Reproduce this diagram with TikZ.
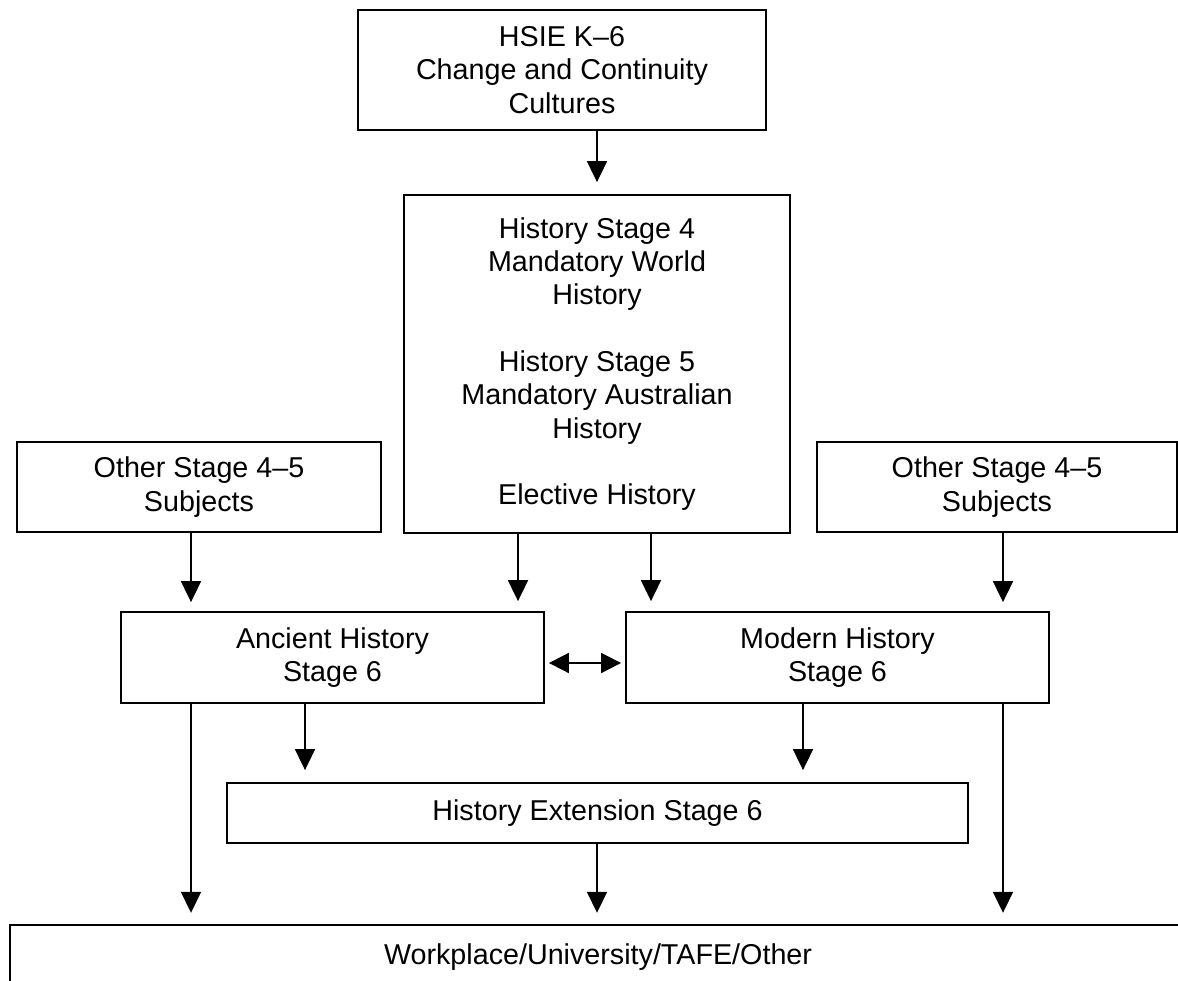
\documentclass[tikz,border=0pt]{standalone}
\usepackage{fontspec}
\setmainfont{Liberation Sans}
\usetikzlibrary{arrows.meta}
\tikzset{
  box/.style={draw, line width=1.8pt, inner sep=0pt, align=center,
    font=\fontsize{28.7pt}{33.3pt}\selectfont},
  arr/.style={line width=1.8pt, -{Triangle[length=21pt,width=20pt]}},
  darr/.style={line width=1.8pt, {Triangle[length=20pt,width=20pt]}-{Triangle[length=20pt,width=20pt]}},
}
\begin{document}
\begin{tikzpicture}[x=1pt,y=-1pt]
\useasboundingbox (0,0) rectangle (1178,981);
\clip (0,0) rectangle (1178,981);

\node[box, minimum width=408pt, minimum height=120pt] (hsie) at (562,70)
  {HSIE K--6\\Change and Continuity\\Cultures};
\node[box, minimum width=386pt, minimum height=338pt] (hist) at (597,364)
  {History Stage 4\\Mandatory World\\History\\[33.3pt]History Stage 5\\Mandatory Australian\\History\\[33.3pt]Elective History};
\node[box, minimum width=364pt, minimum height=90pt] (oth1) at (199,487)
  {Other Stage 4--5\\Subjects};
\node[box, minimum width=360pt, minimum height=90pt] (oth2) at (997,487)
  {Other Stage 4--5\\Subjects};
\node[box, minimum width=423pt, minimum height=91pt] (anc) at (332.5,657.5)
  {Ancient History\\Stage 6};
\node[box, minimum width=423pt, minimum height=91pt] (mod) at (837.5,657.5)
  {Modern History\\Stage 6};
\node[box, minimum width=741pt, minimum height=60pt] (ext) at (597.5,813)
  {History Extension Stage 6};
\node[box, line width=2.4pt, minimum width=1176pt, minimum height=64pt] (work) at (598,957)
  {Workplace/University/TAFE/Other};

\coordinate (c1) at (191,0);
\coordinate (c2) at (305,0);
\coordinate (c3) at (518,0);
\coordinate (c4) at (597,0);
\coordinate (c5) at (651,0);
\coordinate (c6) at (803,0);
\coordinate (c7) at (1003,0);
\coordinate (mid) at (585,663);

\draw[arr, shorten >=12pt] (c4 |- hsie.south) -- (c4 |- hist.north);
\draw[arr, shorten >=9pt] (c1 |- oth1.south) -- (c1 |- anc.north);
\draw[arr, shorten >=10pt] (c3 |- hist.south) -- (c3 |- anc.north);
\draw[arr, shorten >=10pt] (c5 |- hist.south) -- (c5 |- mod.north);
\draw[arr, shorten >=9pt] (c7 |- oth2.south) -- (c7 |- mod.north);
\draw[darr, shorten <=4pt, shorten >=4pt] (anc.east |- mid) -- (mod.west |- mid);
\draw[arr, shorten >=12pt] (c2 |- anc.south) -- (c2 |- ext.north);
\draw[arr, shorten >=12pt] (c6 |- mod.south) -- (c6 |- ext.north);
\draw[arr, shorten >=11pt] (c1 |- anc.south) -- (c1 |- work.north);
\draw[arr, shorten >=11pt] (c7 |- mod.south) -- (c7 |- work.north);
\draw[arr, shorten >=11pt] (c4 |- ext.south) -- (c4 |- work.north);
\end{tikzpicture}
\end{document}
